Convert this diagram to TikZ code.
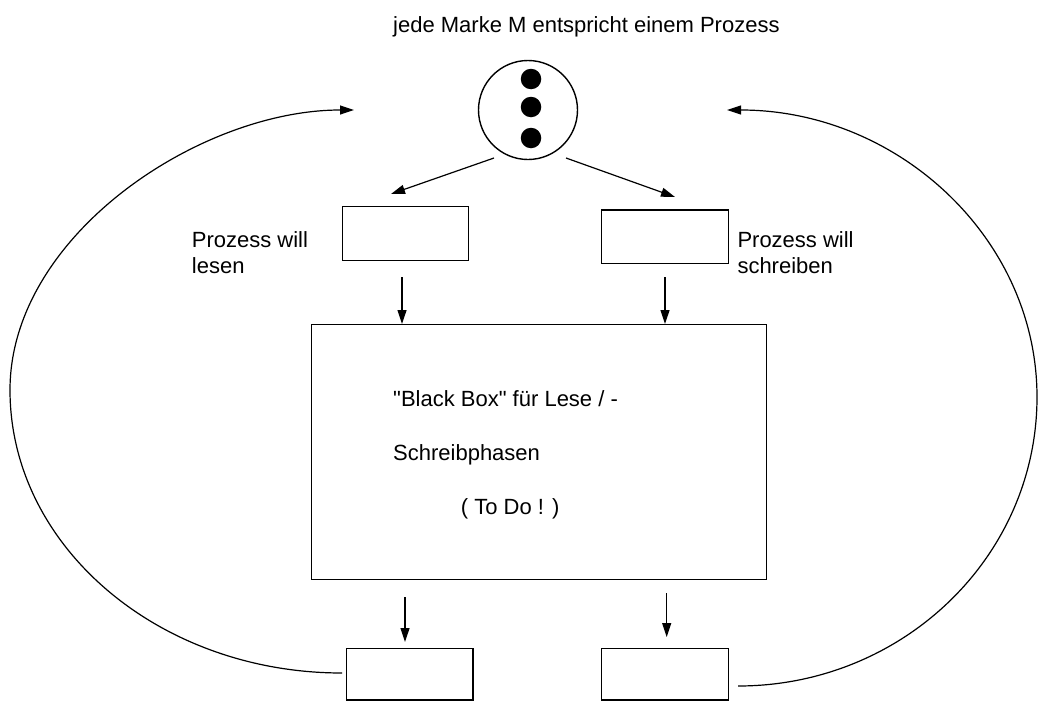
\documentclass[tikz,border=0pt]{standalone}
\usepackage{fontspec}
\setmainfont{Liberation Sans}[Ligatures=TeXOff]
\usetikzlibrary{arrows.meta,shapes.geometric}
\begin{document}
\begin{tikzpicture}[x=1pt,y=-1pt,
  every node/.style={font=\fontsize{22}{26.5}\selectfont},
  box/.style={draw, line width=1.4pt, inner sep=0pt, anchor=north west},
  lbl/.style={align=left, inner sep=0pt},
  dot/.style={circle, fill=black, minimum size=20.5pt, inner sep=0pt},
  arr/.style={line width=1.2pt, -{Triangle[length=14pt,width=9pt]}},
  curve/.style={line width=1.2pt, -{Triangle[length=14pt,width=9pt]}}
]
\useasboundingbox (0,0) rectangle (1039,704);

% title
\node[lbl, anchor=base west] (title) at (393,32) {jede Marke M entspricht einem Prozess};

% place with tokens
\node[draw, circle, line width=1.4pt, minimum size=99pt, inner sep=0pt] (pl) at (528,110) {};
\node[dot] (d1) at (531,79) {};
\node[dot] (d2) at (531,107) {};
\node[dot] (d3) at (531,138) {};

% transitions
\node[box, minimum width=126.5pt, minimum height=54pt] (tl) at (341.5,205.5) {};
\node[box, minimum width=127pt, minimum height=53.5pt] (tr) at (600.7,209.3) {};
\node[box, minimum width=455pt, minimum height=255pt] (bb) at (311,324) {};
\node[box, minimum width=126.5pt, minimum height=51.6pt] (bl) at (345.7,647.7) {};
\node[box, minimum width=126.5pt, minimum height=51.6pt] (br) at (601,647.7) {};

% labels
\node[lbl, anchor=north west] (ll) at (191.7,230.9) {Prozess will\\lesen};
\node[lbl, anchor=north west] (lr) at (737.3,230.9) {Prozess will\\schreiben};
\node[lbl, anchor=north west] (bt) at (393,390) {"Black Box" für Lese / -\\[27.5pt]Schreibphasen\\[27.5pt]\hspace*{67.7pt}( To Do ! )};

% arrows from place
\coordinate (p1s) at (494,158);
\coordinate (p1e) at (391,194);
\coordinate (p2s) at (566,158);
\coordinate (p2e) at (675,197);
\draw[arr] (p1s) -- (p1e);
\draw[arr] (p2s) -- (p2e);

% vertical arrows
\coordinate (v1s) at (402,277);
\coordinate (v2s) at (665,277);
\coordinate (v3s) at (405,597);
\coordinate (v4s) at (666.7,593);
\draw[arr] (v1s) -- (v1s |- bb.north);
\draw[arr] (v2s) -- (v2s |- bb.north);
\draw[arr] (v3s) -- ++(0,45);
\draw[arr] (v4s) -- ++(0,44);

% return curves
\coordinate (lcs) at (342,673);
\coordinate (lce) at (354,110);
\coordinate (rcs) at (738,686);
\coordinate (rce) at (727,110);
\draw[curve] (lcs) .. controls (158.6,673) and (10,546.3) .. (10,390)
                   .. controls (10,235.4) and (200,110) .. (lce);
\draw[curve] (rcs) .. controls (903,686) and (1037,556.6) .. (1037,397)
                   .. controls (1037,238.5) and (898,110) .. (rce);
\end{tikzpicture}
\end{document}
